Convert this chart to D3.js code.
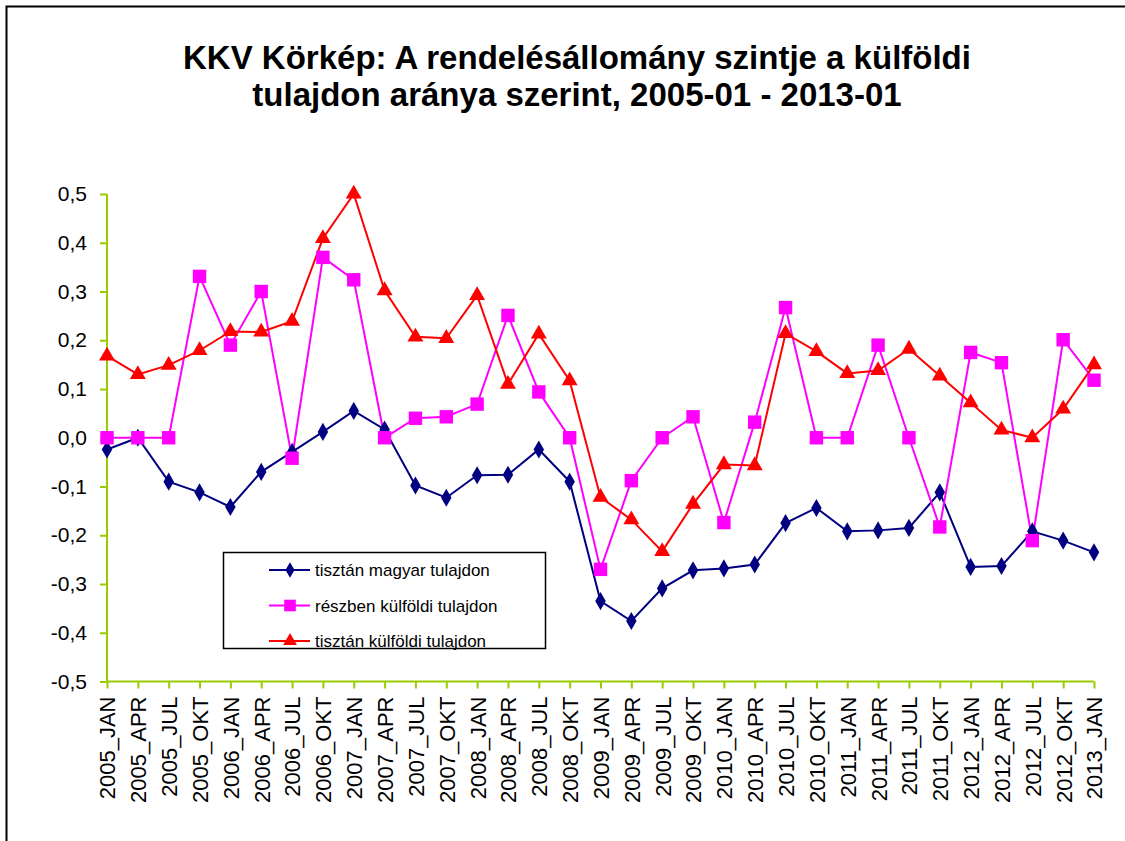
<!DOCTYPE html>
<html><head><meta charset="utf-8">
<script src="https://cdn.jsdelivr.net/npm/d3@7"></script>
<style>body{margin:0;background:#fff}svg{display:block;font-family:"Liberation Sans",Arial,sans-serif}</style>
</head><body><svg id="c" width="1125" height="841"></svg>
<script>
const categories = ["2005_JAN","2005_APR","2005_JUL","2005_OKT","2006_JAN","2006_APR","2006_JUL","2006_OKT","2007_JAN","2007_APR","2007_JUL","2007_OKT","2008_JAN","2008_APR","2008_JUL","2008_OKT","2009_JAN","2009_APR","2009_JUL","2009_OKT","2010_JAN","2010_APR","2010_JUL","2010_OKT","2011_JAN","2011_APR","2011_JUL","2011_OKT","2012_JAN","2012_APR","2012_JUL","2012_OKT","2013_JAN"];
const magyar = [-0.024,0.0,-0.090,-0.112,-0.142,-0.070,-0.029,0.012,0.055,0.017,-0.098,-0.123,-0.077,-0.076,-0.024,-0.090,-0.335,-0.376,-0.309,-0.272,-0.268,-0.260,-0.175,-0.144,-0.192,-0.190,-0.185,-0.112,-0.265,-0.263,-0.192,-0.211,-0.235];
const reszben = [0.0,0.0,0.0,0.331,0.190,0.300,-0.042,0.370,0.324,0.0,0.040,0.043,0.069,0.251,0.094,0.0,-0.270,-0.088,0.0,0.043,-0.174,0.032,0.267,0.0,0.0,0.190,0.0,-0.183,0.175,0.154,-0.211,0.201,0.118];
const kulfoldi = [0.168,0.130,0.149,0.179,0.218,0.217,0.239,0.409,0.500,0.302,0.207,0.204,0.292,0.110,0.213,0.117,-0.122,-0.168,-0.233,-0.136,-0.055,-0.057,0.214,0.177,0.132,0.138,0.182,0.127,0.072,0.016,0.0,0.059,0.150];
const seriesNames = ["tisztán magyar tulajdon","részben külföldi tulajdon","tisztán külföldi tulajdon"];
const yTicks = [-0.5,-0.4,-0.3,-0.2,-0.1,0.0,0.1,0.2,0.3,0.4,0.5];
const titleLines = ["KKV Körkép: A rendelésállomány szintje a külföldi","tulajdon aránya szerint, 2005-01 - 2013-01"];

const series = [
  {name: seriesNames[0], values: magyar, color: "#000080", symbol: d3.symbolDiamond, size: 95},
  {name: seriesNames[1], values: reszben, color: "#FF00FF", symbol: d3.symbolSquare, size: 180},
  {name: seriesNames[2], values: kulfoldi, color: "#FF0000", symbol: d3.symbolTriangle, size: 110}
];

const svg = d3.select("#c");
const axisColor = "#99CC00";
svg.append("rect").attr("x",6.5).attr("y",6.5).attr("width",1130).attr("height",850)
  .attr("fill","none").attr("stroke","#000").attr("stroke-width",2);

svg.append("g").selectAll("text").data(titleLines).join("text")
  .attr("x",577).attr("y",(d,i)=>69+i*37).attr("text-anchor","middle")
  .attr("font-size",33).attr("font-weight","bold").attr("fill","#000").text(d=>d);

const x = d3.scalePoint().domain(categories).range([107,1094]);
const y = d3.scaleLinear().domain([-0.5,0.5]).range([681.5,194]);

const fmt = v => d3.format(".1f")(v).replace(".",",").replace("−","-");

const yAxis = svg.append("g").attr("transform","translate(107,0)")
  .call(d3.axisLeft(y).tickValues(yTicks).tickSize(7).tickPadding(13).tickFormat(fmt));
yAxis.selectAll("path,line").attr("stroke",axisColor).attr("stroke-width",2);
yAxis.select(".domain").attr("d",`M0,${y(-0.5)}V${y(0.5)}`);
yAxis.selectAll("text").attr("font-size",21).attr("fill","#000").attr("font-family","Liberation Sans, Arial, sans-serif");

const xAxis = svg.append("g").attr("transform",`translate(0,${y(-0.5)})`)
  .call(d3.axisBottom(x).tickSize(7).tickFormat(d=>d));
xAxis.selectAll("path,line").attr("stroke",axisColor).attr("stroke-width",2);
xAxis.select(".domain").attr("d",`M107,0H1094`);
xAxis.selectAll("text").attr("font-size",22).attr("fill","#000")
  .attr("font-family","Liberation Sans, Arial, sans-serif")
  .attr("text-anchor","end").attr("transform","rotate(-90)")
  .attr("x",-15).attr("y",0).attr("dy","0.36em");

const line = d3.line().x((d,i)=>x(categories[i])).y(d=>y(d));
series.forEach(s=>{
  svg.append("path").datum(s.values).attr("d",line)
    .attr("fill","none").attr("stroke",s.color).attr("stroke-width",2);
});
series.forEach(s=>{
  svg.append("g").selectAll("path").data(s.values).join("path")
    .attr("d",d3.symbol().type(s.symbol).size(s.size))
    .attr("transform",(d,i)=>`translate(${x(categories[i])},${y(d)})`)
    .attr("fill",s.color);
});

const lg = svg.append("g");
lg.append("rect").attr("x",223.5).attr("y",552.5).attr("width",322).attr("height",96)
  .attr("fill","#fff").attr("stroke","#000").attr("stroke-width",1.5);
series.forEach((s,i)=>{
  const yy = 570 + i*35.5;
  lg.append("line").attr("x1",269).attr("x2",310).attr("y1",yy).attr("y2",yy)
    .attr("stroke",s.color).attr("stroke-width",2);
  lg.append("path").attr("d",d3.symbol().type(s.symbol).size(s.size*0.75)())
    .attr("transform",`translate(290,${yy})`).attr("fill",s.color);
  lg.append("text").attr("x",315).attr("y",yy+6).attr("font-size",17).attr("fill","#000").text(s.name);
});
</script></body></html>
